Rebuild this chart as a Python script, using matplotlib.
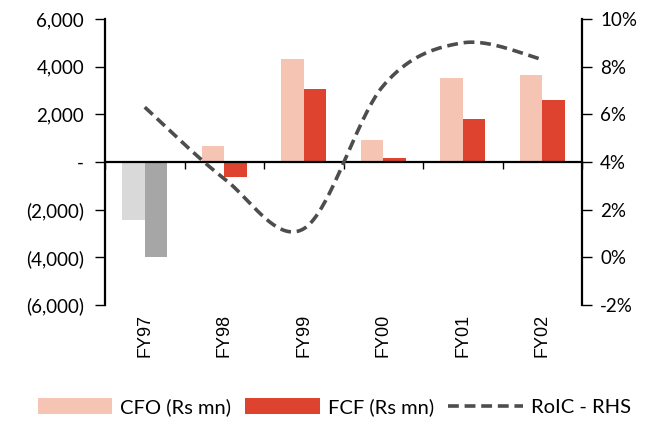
import numpy as np
import matplotlib
matplotlib.use("Agg")
import matplotlib.pyplot as plt
from matplotlib.patches import Patch
from matplotlib.lines import Line2D
from matplotlib.ticker import FuncFormatter

plt.rcParams['font.family'] = ['Lato', 'DejaVu Sans']

years = ["FY97", "FY98", "FY99", "FY00", "FY01", "FY02"]
cfo = [-2430, 670, 4310, 920, 3510, 3660]      # Rs mn
fcf = [-4000, -620, 3060, 180, 1790, 2600]     # Rs mn
roic = [6.3, 3.3, 1.2, 7.2, 9.0, 8.3]          # %

CFO_COLOR = "#F5C4B3"
FCF_COLOR = "#DE4330"
CFO_FIRST = "#D9D9D9"
FCF_FIRST = "#A6A6A6"
LINE_COLOR = "#4D4D4D"


def smooth_curve(y, steps=40):
    """Excel-style smoothed line: cubic Bezier segments with Catmull-Rom tangents."""
    y = np.asarray(y, float)
    x = np.arange(len(y), dtype=float)
    xs, ys = [], []
    n = len(y)
    for i in range(n - 1):
        i0 = max(i - 1, 0)
        i3 = min(i + 2, n - 1)
        p0x, p0y = x[i], y[i]
        p3x, p3y = x[i + 1], y[i + 1]
        c1x = p0x + (x[i + 1] - x[i0]) / 6
        c1y = p0y + (y[i + 1] - y[i0]) / 6
        c2x = p3x - (x[i3] - x[i]) / 6
        c2y = p3y - (y[i3] - y[i]) / 6
        t = np.linspace(0, 1, steps, endpoint=(i == n - 2))
        a, b, c, d = (1 - t) ** 3, 3 * (1 - t) ** 2 * t, 3 * (1 - t) * t ** 2, t ** 3
        xs.append(a * p0x + b * c1x + c * c2x + d * p3x)
        ys.append(a * p0y + b * c1y + c * c2y + d * p3y)
    return np.concatenate(xs), np.concatenate(ys)


fig = plt.figure(figsize=(6.58, 4.21), dpi=100)
ax = fig.add_axes([105 / 658, 1 - 305 / 421, 477 / 658, 286 / 421])
ax2 = ax.twinx()

x = np.arange(len(years))
w = 0.285
cfo_colors = [CFO_FIRST] + [CFO_COLOR] * (len(years) - 1)
fcf_colors = [FCF_FIRST] + [FCF_COLOR] * (len(years) - 1)
ax.bar(x - w / 2, cfo, w, color=cfo_colors, zorder=2)
ax.bar(x + w / 2, fcf, w, color=fcf_colors, zorder=2)

ax.set_xlim(-0.5, len(years) - 0.5)
ax.set_ylim(-6000, 6000)
ax.set_yticks(np.arange(-6000, 6001, 2000))


def thousands(v, _):
    if v == 0:
        return "-"
    s = f"{abs(v):,.0f}"
    return f"({s})" if v < 0 else s


ax.yaxis.set_major_formatter(FuncFormatter(thousands))

for s in ("top", "right"):
    ax.spines[s].set_visible(False)
ax.spines["bottom"].set_position(("data", 0))
for s in ("left", "bottom"):
    ax.spines[s].set_linewidth(1.6)
    ax.spines[s].set_color("black")

ax.set_xticks(np.arange(-0.5, len(years) - 0.4, 1.0))
ax.set_xticklabels([])
ax.tick_params(axis="x", direction="out", length=5, width=1.0)
ax.tick_params(axis="y", direction="out", length=7, width=1.0, labelsize=13.5, pad=8)

for xi, lab in zip(x, years):
    ax.text(xi, -0.03, lab, transform=ax.get_xaxis_transform(), rotation=90,
            ha="center", va="top", fontsize=13, family=["Liberation Sans"])

xs, ys = smooth_curve(roic)
ax2.plot(xs, ys, color=LINE_COLOR, lw=2.6, linestyle=(0, (3.0, 1.6)), zorder=3)
ax2.set_ylim(-2, 10)
ax2.set_yticks(np.arange(-2, 10.1, 2))
ax2.yaxis.set_major_formatter(FuncFormatter(lambda v, _: f"{v:.0f}%"))
for s in ("top", "left", "bottom"):
    ax2.spines[s].set_visible(False)
ax2.spines["right"].set_linewidth(1.6)
ax2.tick_params(axis="y", direction="out", length=7, width=1.0, labelsize=13.5, pad=6)

handles = [
    Patch(facecolor=CFO_COLOR, label="CFO (Rs mn)"),
    Patch(facecolor=FCF_COLOR, label="FCF (Rs mn)"),
    Line2D([], [], color=LINE_COLOR, lw=2.6, linestyle=(0, (3.0, 1.6)), label="RoIC - RHS"),
]
fig.legend(handles=handles, loc="center", bbox_to_anchor=(0.508, 1 - 407 / 421),
           bbox_transform=fig.transFigure, ncol=3, frameon=False, fontsize=14.5,
           handlelength=3.7, handleheight=0.85, handletextpad=0.4, columnspacing=0.7)

fig.savefig("out.png", dpi=100)
